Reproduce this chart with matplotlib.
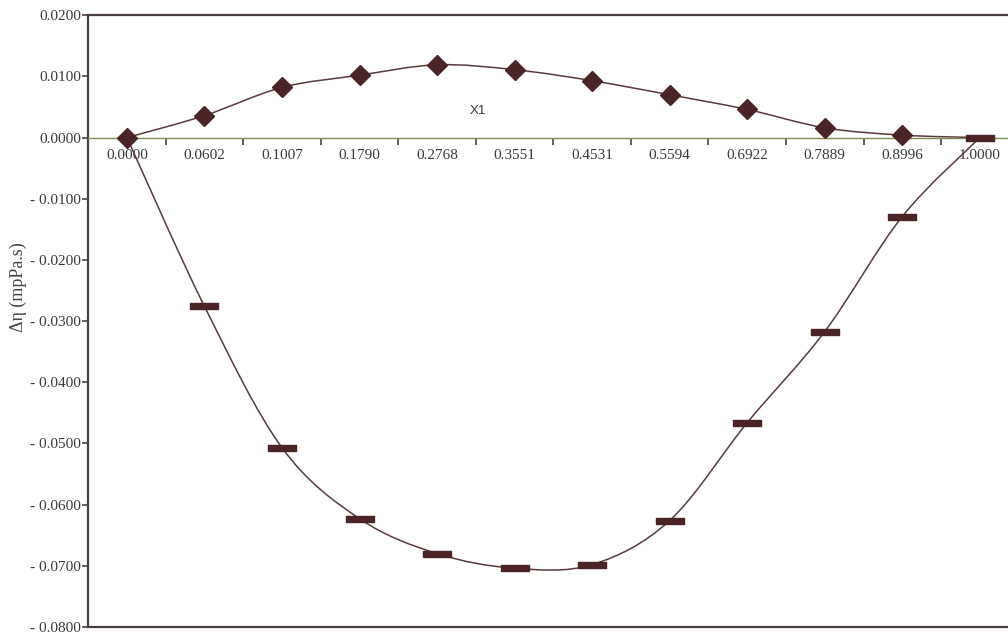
import numpy as np
import matplotlib
matplotlib.use('Agg')
import matplotlib.pyplot as plt
from matplotlib.path import Path
from matplotlib.patches import PathPatch

plt.rcParams['font.family'] = ['Liberation Serif', 'DejaVu Serif']

# x1 categories and the two curves (mPa.s)
x1_labels = ['0.0000', '0.0602', '0.1007', '0.1790', '0.2768', '0.3551',
             '0.4531', '0.5594', '0.6922', '0.7889', '0.8996', '1.0000']
upper = [0.0000, 0.0036, 0.0082, 0.0102, 0.0119, 0.0111,
         0.0093, 0.0070, 0.0046, 0.0016, 0.0004, 0.0000]
lower = [0.0000, -0.0276, -0.0507, -0.0623, -0.0680, -0.0704,
         -0.0698, -0.0626, -0.0466, -0.0317, -0.0129, 0.0000]
yticks = [0.02, 0.01, 0.0, -0.01, -0.02, -0.03, -0.04, -0.05, -0.06, -0.07, -0.08]

line_col = '#5a3a3c'
mark_col = '#4a2427'


def smooth_path(xs, ys):
    # catmull-rom style bezier, like the excel "smoothed line"
    pts = np.column_stack([xs, ys]).astype(float)
    verts = [pts[0]]
    codes = [Path.MOVETO]
    n = len(pts)
    for i in range(n - 1):
        p0 = pts[i - 1] if i > 0 else pts[i]
        p1 = pts[i]
        p2 = pts[i + 1]
        p3 = pts[i + 2] if i + 2 < n else pts[i + 1]
        verts += [p1 + (p2 - p0) / 6, p2 - (p3 - p1) / 6, p2]
        codes += [Path.CURVE4] * 3
    return Path(verts, codes)


fig = plt.figure(figsize=(10.08, 6.35), dpi=100)
ax = fig.add_axes([0.0875, 0.0126, 0.923, 0.9634])
x = np.arange(len(x1_labels))

for vals in (upper, lower):
    ax.add_patch(PathPatch(smooth_path(x, vals), facecolor='none',
                           edgecolor=line_col, lw=1.1, zorder=2))

dash = [(-2, -0.5), (2, -0.5), (2, 0.5), (-2, 0.5), (-2, -0.5)]
ax.plot(x[1:], lower[1:], ls='none', marker=dash, ms=20, color=mark_col,
        mec=mark_col, zorder=3)
ax.plot(x[:-1], upper[:-1], ls='none', marker='D', ms=10, color=mark_col,
        mec=mark_col, zorder=4)

ax.set_xlim(-0.5, len(x1_labels) - 0.5)
ax.set_ylim(-0.08, 0.02)

ax.spines['bottom'].set_position(('data', 0))
ax.spines['bottom'].set_color('#7f8a55')
ax.spines['bottom'].set_linewidth(1.0)
ax.spines['left'].set_color('#4a4040')
ax.spines['left'].set_linewidth(1.6)
ax.spines['top'].set_color('#4a4040')
ax.spines['top'].set_linewidth(1.6)
ax.spines['right'].set_visible(False)
ax.axhline(-0.08, color='#4a4040', lw=1.6, clip_on=False)

ax.set_xticks(x)
ax.set_xticklabels(x1_labels, fontsize=11, color='#3a3a3a')
ax.set_xticks(x[:-1] + 0.5, minor=True)
ax.tick_params(axis='x', which='major', length=0, pad=8)
ax.tick_params(axis='x', which='minor', length=5, width=1.2, color='#4a4040',
               direction='out')

ax.set_yticks(yticks)
ax.set_yticklabels(['%.4f' % v if v >= 0 else '- %.4f' % abs(v) for v in yticks],
                   fontsize=11, color='#3a3a3a')
ax.tick_params(axis='y', length=4, width=1.2, color='#4a4040', pad=1)

fig.text(0.474, 0.825, 'X1', fontsize=9.5, family='Liberation Sans',
         color='#333333', ha='center', va='center')
fig.text(0.018, 0.548, 'Δη (mpPa.s)', fontsize=13, rotation=90,
         color='#444444', ha='center', va='center')

fig.savefig('out.png', dpi=100)
